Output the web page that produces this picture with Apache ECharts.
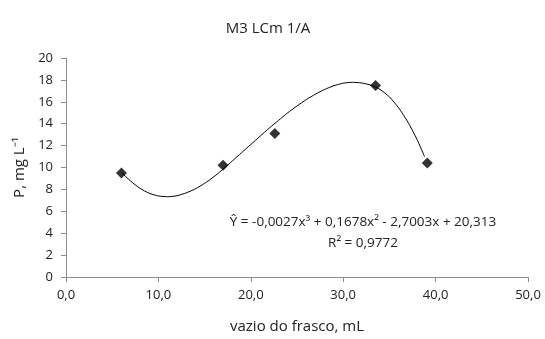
<!DOCTYPE html>
<html><head><meta charset="utf-8">
<script src="https://cdn.jsdelivr.net/npm/echarts@6/dist/echarts.min.js"></script>
<style>html,body{margin:0;padding:0;background:#fff}#c{width:545px;height:339px}</style>
</head><body><div id="c"></div>
<script>
// Observed points
const obsX = [6.0, 17.0, 22.6, 33.5, 39.1];
const obsY = [9.5, 10.2, 13.1, 17.5, 10.4];
// Trend curve
const trendX = [6, 7, 8, 9, 10, 11, 12, 13, 14, 15, 16, 17, 18, 19, 20, 21, 22, 23, 24, 25, 26, 27, 28, 29, 30, 31, 32, 33, 34, 35, 36, 37, 38, 38.8];
const trendY = [9.55, 8.75, 8.1, 7.65, 7.4, 7.33, 7.42, 7.68, 8.05, 8.55, 9.15, 9.85, 10.6, 11.35, 12.1, 12.85, 13.6, 14.3, 15.0, 15.62, 16.2, 16.7, 17.13, 17.47, 17.7, 17.78, 17.72, 17.52, 17.12, 16.45, 15.45, 14.15, 12.55, 11.0];
const xTicks = [0, 10, 20, 30, 40, 50];
const yTicks = [0, 2, 4, 6, 8, 10, 12, 14, 16, 18, 20];
const titleText = 'M3 LCm 1/A';
const xName = 'vazio do frasco, mL';
const yName = 'P, mg L⁻¹';
const eqText = 'Ŷ = -0,0027x³ + 0,1678x² - 2,7003x + 20,313';
const r2Text = 'R² = 0,9772';

const FONT = '"Open Sans", "Liberation Sans", sans-serif';
const TXT = '#222';
const AX = '#8c8c8c';
const chart = echarts.init(document.getElementById('c'), null, {renderer: 'canvas'});
chart.setOption({
  animation: false,
  backgroundColor: '#fff',
  textStyle: {fontFamily: FONT},
  title: {text: titleText, left: 263, top: 16, textAlign: 'center',
    textStyle: {fontSize: 15, fontWeight: 'normal', color: TXT, fontFamily: FONT}},
  grid: {left: 66, right: 17, top: 58, bottom: 60.5},
  xAxis: {type: 'value', min: xTicks[0], max: xTicks[xTicks.length-1], interval: 10,
    name: xName, nameLocation: 'middle', nameGap: 42,
    nameTextStyle: {fontSize: 15, color: TXT, fontFamily: FONT},
    axisLine: {show: true, lineStyle: {color: AX, width: 1}},
    axisTick: {show: true, inside: false, length: 5, lineStyle: {color: AX}},
    splitLine: {show: false},
    axisLabel: {color: TXT, fontSize: 13, margin: 12, fontFamily: FONT,
      formatter: v => v.toFixed(1).replace('.', ',')}},
  yAxis: {type: 'value', min: yTicks[0], max: yTicks[yTicks.length-1], interval: 2,
    name: yName, nameLocation: 'middle', nameGap: 34, nameRotate: 90,
    nameTextStyle: {fontSize: 15, color: TXT, fontFamily: FONT},
    axisLine: {show: true, lineStyle: {color: AX, width: 1}},
    axisTick: {show: true, inside: false, length: 5, lineStyle: {color: AX}},
    splitLine: {show: false},
    axisLabel: {color: TXT, fontSize: 13, margin: 13, fontFamily: FONT}},
  series: [
    {type: 'line', data: trendX.map((x, i) => [x, trendY[i]]), smooth: 0.2,
      showSymbol: false, lineStyle: {color: '#000', width: 1}, z: 2},
    {type: 'scatter', data: obsX.map((x, i) => [x, obsY[i]]), symbol: 'diamond',
      symbolSize: 11, itemStyle: {color: '#000'}, z: 3}
  ],
  graphic: [
    {type: 'text', x: 363, y: 222, style: {text: eqText, align: 'center', verticalAlign: 'middle',
      font: '13.5px ' + FONT, fill: TXT}},
    {type: 'text', x: 363, y: 243, style: {text: r2Text, align: 'center', verticalAlign: 'middle',
      font: '13.5px ' + FONT, fill: TXT}}
  ]
});
</script></body></html>
